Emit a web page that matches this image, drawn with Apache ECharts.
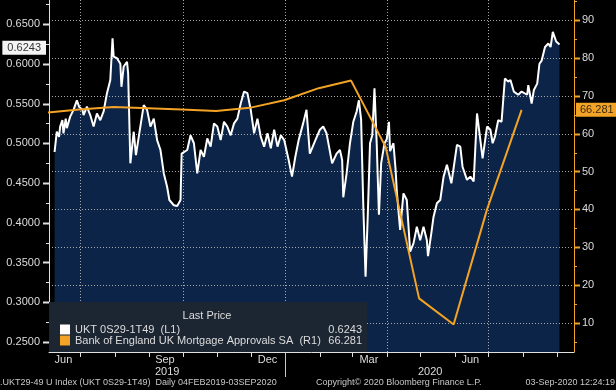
<!DOCTYPE html>
<html><head><meta charset="utf-8">
<script src="https://cdn.jsdelivr.net/npm/echarts@6/dist/echarts.min.js"></script>
<style>html,body{margin:0;padding:0;background:#000}#c{width:616px;height:390px}</style>
</head><body><div id="c"></div>
<script>
const FONT = '"Liberation Sans", Arial, sans-serif';
const UKT_NAME = 'UKT 0S29-1T49  (L1)';
const MORT_NAME = 'Bank of England UK Mortgage Approvals SA  (R1)';

// UKT 0S29-1T49 spread, daily
const ukDates = [
 '2019-06-08','2019-06-10','2019-06-12','2019-06-13','2019-06-15','2019-06-16','2019-06-18','2019-06-19','2019-06-22','2019-06-25','2019-06-28','2019-06-30',
 '2019-07-03','2019-07-04','2019-07-07','2019-07-10','2019-07-13','2019-07-16','2019-07-19','2019-07-22','2019-07-25','2019-07-28','2019-07-30','2019-07-31',
 '2019-08-03','2019-08-06','2019-08-07','2019-08-09','2019-08-12','2019-08-13','2019-08-15','2019-08-18','2019-08-20','2019-08-23','2019-08-27','2019-08-30',
 '2019-09-02','2019-09-05','2019-09-08','2019-09-11','2019-09-14','2019-09-17','2019-09-19','2019-09-23','2019-09-26','2019-09-29','2019-09-30',
 '2019-10-05','2019-10-08','2019-10-11','2019-10-14','2019-10-17','2019-10-20','2019-10-23','2019-10-26','2019-10-29',
 '2019-11-01','2019-11-04','2019-11-07','2019-11-10','2019-11-13','2019-11-16','2019-11-19','2019-11-22','2019-11-25','2019-11-28',
 '2019-12-01','2019-12-04','2019-12-07','2019-12-10','2019-12-13','2019-12-16','2019-12-19','2019-12-22','2019-12-25','2019-12-28','2019-12-31',
 '2020-01-04','2020-01-07','2020-01-10','2020-01-13','2020-01-17','2020-01-20','2020-01-23','2020-01-28',
 '2020-02-01','2020-02-04','2020-02-07','2020-02-12','2020-02-16','2020-02-19','2020-02-21','2020-02-22','2020-02-25','2020-02-28',
 '2020-03-02','2020-03-05','2020-03-07','2020-03-09','2020-03-11','2020-03-13','2020-03-15','2020-03-17','2020-03-19','2020-03-21','2020-03-23','2020-03-25','2020-03-27','2020-03-30',
 '2020-04-01','2020-04-03','2020-04-04','2020-04-07','2020-04-09','2020-04-10','2020-04-13','2020-04-16','2020-04-19','2020-04-22','2020-04-25','2020-04-28',
 '2020-05-01','2020-05-04','2020-05-07','2020-05-08','2020-05-11','2020-05-13','2020-05-16','2020-05-19','2020-05-22','2020-05-25','2020-05-29',
 '2020-06-03','2020-06-06','2020-06-08','2020-06-12','2020-06-15','2020-06-18','2020-06-21','2020-06-24','2020-06-26','2020-06-30',
 '2020-07-03','2020-07-05','2020-07-07','2020-07-10','2020-07-13','2020-07-16','2020-07-19','2020-07-21','2020-07-24','2020-07-28','2020-07-31',
 '2020-08-05','2020-08-06','2020-08-09','2020-08-11','2020-08-14','2020-08-16','2020-08-18','2020-08-21','2020-08-24','2020-08-26','2020-08-28','2020-08-31',
 '2020-09-03'
];
const ukValues = [
 0.489,0.5145,0.508,0.521,0.529,0.5125,0.531,0.519,0.5335,0.542,0.554,0.546,
 0.542,0.5355,0.546,0.5355,0.521,0.5375,0.529,0.540,0.563,0.5795,0.632,0.609,
 0.607,0.600,0.571,0.5965,0.6025,0.588,0.4748,0.5145,0.485,0.5125,0.548,0.542,
 0.521,0.531,0.504,0.4915,0.462,0.445,0.4286,0.422,0.421,0.4286,0.487,
 0.4915,0.510,0.500,0.462,0.4915,0.483,0.506,0.4957,0.525,
 0.521,0.504,0.527,0.521,0.510,0.525,0.531,0.550,0.565,0.563,
 0.542,0.5125,0.531,0.508,0.4957,0.5125,0.4937,0.517,0.4957,0.510,0.504,
 0.479,0.458,0.483,0.504,0.525,0.542,0.487,0.504,
 0.517,0.521,0.5125,0.4748,0.487,0.4915,0.479,0.432,0.462,0.500,
 0.527,0.540,0.554,0.530,0.420,0.332,0.410,0.500,0.510,0.569,0.500,0.410,0.475,0.500,
 0.505,0.527,0.490,0.500,0.466,0.440,0.391,0.437,0.4286,0.3636,0.374,0.395,
 0.378,0.395,0.378,0.358,0.387,0.4076,0.4245,0.4286,0.458,0.473,0.4496,
 0.498,0.4957,0.4705,0.454,0.458,0.452,0.5375,0.504,0.481,0.521,
 0.517,0.500,0.508,0.529,0.527,0.5815,0.5775,0.5795,0.565,0.561,0.565,
 0.561,0.573,0.550,0.567,0.575,0.600,0.604,0.621,0.6254,0.621,0.640,0.628,
 0.6243
];

// Bank of England mortgage approvals (thousands), monthly, plotted at month end
const mortDates = ['2019-05-31','2019-06-30','2019-07-31','2019-08-31','2019-09-30','2019-10-31','2019-11-30','2019-12-31',
 '2020-01-31','2020-02-29','2020-03-31','2020-04-30','2020-05-31','2020-06-30','2020-07-31'];
const mortValues = [65.5,66.4,67.0,66.7,66.4,66.0,66.8,68.8,72.0,74.0,56.5,16.5,9.6,40.0,66.281];

// axis ticks / labels
const leftTicks = [0.25,0.30,0.35,0.40,0.45,0.50,0.55,0.60,0.65];
const leftMinor = [0.275,0.325,0.375,0.425,0.475,0.525,0.575,0.625,0.675];
const rightTicks = [10,20,30,40,50,60,70,80,90];
const rightMinor = [5,15,25,35,45,55,65,75,85,95];
const axisStart = '2019-06-03';
const axisEnd = '2020-09-16';
const monthTicks = ['2019-07-01','2019-08-01','2019-09-01','2019-10-01','2019-11-01','2019-12-01','2020-01-01','2020-02-01',
 '2020-03-01','2020-04-01','2020-05-01','2020-06-01','2020-07-01','2020-08-01','2020-09-01'];
const quarterLines = ['2019-07-01','2019-10-01','2020-01-01','2020-04-01','2020-07-01'];
const monthLabelDates = ['2019-06-16','2019-09-15','2019-12-16','2020-03-16','2020-06-15'];
const monthLabelText = ['Jun','Sep','Dec','Mar','Jun'];
const yearLabelDates = ['2019-09-17','2020-05-10'];
const yearLabelText = ['2019','2020'];
const yearBreaks = ['2020-01-01'];

const DAY = 864e5;
const t = s => Date.parse(s + 'T00:00:00Z');
const fmt = ms => new Date(ms).toISOString().slice(0, 10);
const axisDays = [];
for (let d = t(axisStart); d <= t(axisEnd); d += DAY) axisDays.push(fmt(d));

const L_MIN = 0.23742, L_MAX = 0.68019;
const R_MIN = 2.343, R_MAX = 95.28;

const monthMap = {}; monthLabelDates.forEach((d, i) => monthMap[d] = monthLabelText[i]);
const yearMap = {}; yearLabelDates.forEach((d, i) => yearMap[d] = yearLabelText[i]);

const ukData = ukDates.map((d, i) => [t(d), ukValues[i]]);
const mortData = mortDates.map((d, i) => [t(d), mortValues[i]]);
const lastUk = ukValues[ukValues.length - 1];
const lastMort = mortValues[mortValues.length - 1];

const GRID_COL = '#a8a8a8';
const AX_COL = '#e0e0e0';
const TXT = '#dcdcdc';
const ORANGE = '#f3a325';
const NAVY = '#0b2447';

// ---- grid lines and ticks drawn through the axes' own scales (custom series) ----
const snap = v => Math.round(v) + 0.5;
function hGrid(params, api) {
  const cs = params.coordSys;
  const y = snap(api.coord([api.value(0), api.value(1)])[1]);
  return {type: 'line', silent: true, shape: {x1: cs.x, y1: y, x2: cs.x + cs.width, y2: y},
    style: {stroke: GRID_COL, lineWidth: 1, lineDash: [1, 2]}};
}
function vGrid(params, api) {
  const cs = params.coordSys;
  const x = snap(api.coord([api.value(0), api.value(1)])[0]);
  return {type: 'line', silent: true, shape: {x1: x, y1: cs.y, x2: x, y2: cs.y + cs.height},
    style: {stroke: GRID_COL, lineWidth: 1, lineDash: [1, 2]}};
}
function yTick(side, len, color, width) {
  return (params, api) => {
    const cs = params.coordSys;
    const y = snap(api.coord([api.value(0), api.value(1)])[1]);
    const x0 = side === 'left' ? cs.x : cs.x + cs.width;
    const x1 = side === 'left' ? x0 - len : x0 + len;
    return {type: 'line', silent: true, shape: {x1: x0, y1: y, x2: x1, y2: y}, style: {stroke: color, lineWidth: width}};
  };
}
function xTick(len, color) {
  return (params, api) => {
    const cs = params.coordSys;
    const x = snap(api.coord([api.value(0), api.value(1)])[0]);
    const y0 = cs.y + cs.height;
    return {type: 'line', silent: true, shape: {x1: x, y1: y0, x2: x, y2: y0 + len}, style: {stroke: color, lineWidth: 1}};
  };
}
const X0 = t(axisStart);
function helper(name, yIdx, data, render, z) {
  return {name, type: 'custom', xAxisIndex: 1, yAxisIndex: yIdx, data, renderItem: render,
    clip: false, silent: true, z, animation: false, tooltip: {show: false}};
}

const chart = echarts.init(document.getElementById('c'), null, {renderer: 'canvas'});
chart.setOption({
  backgroundColor: '#000',
  animation: false,
  grid: [
    {left: 49, right: 42, top: 0, bottom: 38, outerBoundsMode: 'none'},
    {left: 49, right: 42, top: 0, bottom: 38, outerBoundsMode: 'none'}
  ],
  xAxis: [
    {type: 'category', gridIndex: 0, data: axisDays, boundaryGap: false, position: 'bottom', z: 2,
     axisLine: {show: true, lineStyle: {color: AX_COL, width: 1}},
     axisTick: {show: false},
     axisLabel: {show: true, interval: (i, v) => v in monthMap, formatter: v => monthMap[v] || '',
       color: TXT, fontSize: 11, fontFamily: FONT, margin: 2, hideOverlap: false},
     splitLine: {show: false}},
    {type: 'value', gridIndex: 0, min: t(axisStart), max: t(axisEnd), show: false,
     axisLine: {show: false}, axisTick: {show: false}, axisLabel: {show: false}, splitLine: {show: false}},
    {type: 'category', gridIndex: 1, data: axisDays, boundaryGap: false, position: 'bottom', z: 2,
     axisLine: {show: false}, axisTick: {show: false},
     axisLabel: {show: true, interval: (i, v) => v in yearMap, formatter: v => yearMap[v] || '',
       color: TXT, fontSize: 11, fontFamily: FONT, margin: 14, hideOverlap: false},
     splitLine: {show: false}}
  ],
  yAxis: [
    {type: 'value', gridIndex: 0, min: L_MIN, max: L_MAX, splitNumber: 9, position: 'left', z: 2,
     axisLine: {show: true, lineStyle: {color: AX_COL}},
     axisTick: {show: false},
     axisLabel: {formatter: v => v.toFixed(4), showMinLabel: false, showMaxLabel: false,
       color: TXT, fontSize: 11, fontFamily: FONT, margin: 9},
     splitLine: {show: false}},
    {type: 'value', gridIndex: 0, min: R_MIN, max: R_MAX, splitNumber: 9, position: 'right', z: 2,
     axisLine: {show: true, lineStyle: {color: ORANGE}},
     axisTick: {show: false},
     axisLabel: {showMinLabel: false, showMaxLabel: false, color: TXT, fontSize: 11, fontFamily: FONT, margin: 8},
     splitLine: {show: false}},
    {type: 'value', gridIndex: 1, min: L_MIN, max: L_MAX, show: false}
  ],
  legend: {
    data: [UKT_NAME, MORT_NAME],
    orient: 'vertical', left: 55, top: 319, itemWidth: 10, itemHeight: 10, itemGap: 0,
    icon: 'rect', selectedMode: false, z: 8,
    formatter: name => {
      const v = name === UKT_NAME ? lastUk.toFixed(4) : lastMort.toFixed(3);
      return '{n|' + name + '}{v|' + v + '}';
    },
    textStyle: {rich: {
      n: {width: 250, color: TXT, fontSize: 11, fontFamily: FONT, lineHeight: 14},
      v: {width: 37, align: 'right', color: TXT, fontSize: 11, fontFamily: FONT, lineHeight: 14}
    }}
  },
  graphic: [
    {type: 'rect', z: 7, silent: true, shape: {x: 49, y: 302, width: 318, height: 50}, style: {fill: '#1c2532'}},
    {type: 'text', z: 8, x: 207, y: 316, style: {text: 'Last Price', fill: TXT, font: '11px ' + FONT,
      align: 'center', verticalAlign: 'middle', textAlign: 'center', textVerticalAlign: 'middle'}},
    {type: 'text', z: 8, x: 0, y: 383, style: {text: '.UKT29-49 U Index (UKT 0S29-1T49)  Daily 04FEB2019-03SEP2020', fill: '#c8c8c8',
      font: '9px ' + FONT, align: 'left', verticalAlign: 'middle', textAlign: 'left', textVerticalAlign: 'middle'}},
    {type: 'text', z: 8, x: 316, y: 383, style: {text: 'Copyright\u00A9 2020 Bloomberg Finance L.P.', fill: '#c8c8c8',
      font: '9px ' + FONT, align: 'left', verticalAlign: 'middle', textAlign: 'left', textVerticalAlign: 'middle'}},
    {type: 'text', z: 8, x: 615, y: 383, style: {text: '03-Sep-2020 12:24:19', fill: '#c8c8c8',
      font: '9px ' + FONT, align: 'right', verticalAlign: 'middle', textAlign: 'right', textVerticalAlign: 'middle'}}
  ],
  series: [
    {name: 'ukt-area', type: 'line', xAxisIndex: 1, yAxisIndex: 0, data: ukData, z: 1,
     showSymbol: false, symbol: 'none', lineStyle: {width: 0}, itemStyle: {color: NAVY},
     areaStyle: {color: NAVY, opacity: 1, origin: 'start'}, silent: true},
    helper('grid-h', 1, rightTicks.map(v => [X0, v]), hGrid, 2),
    helper('grid-v', 1, quarterLines.map(d => [t(d), R_MIN]), vGrid, 2),
    helper('tick-left', 0, leftTicks.map(v => [X0, v]), yTick('left', 6, AX_COL, 2), 2),
    helper('tick-left-minor', 0, leftMinor.map(v => [X0, v]), yTick('left', 3, AX_COL, 1), 2),
    helper('tick-right', 1, rightTicks.map(v => [X0, v]), yTick('right', 6, ORANGE, 2), 2),
    helper('tick-right-minor', 1, rightMinor.map(v => [X0, v]), yTick('right', 3, ORANGE, 1), 2),
    helper('tick-month', 1, monthTicks.map(d => [t(d), R_MIN]), xTick(5, AX_COL), 2),
    helper('tick-year', 1, yearBreaks.map(d => [t(d), R_MIN]), xTick(25, '#c8c8c8'), 2),
    {name: UKT_NAME, type: 'line', xAxisIndex: 1, yAxisIndex: 0, data: ukData, z: 3,
     showSymbol: false, symbol: 'none', color: '#ffffff', lineStyle: {color: '#ffffff', width: 2}, itemStyle: {color: '#ffffff'}},
    {name: MORT_NAME, type: 'line', xAxisIndex: 1, yAxisIndex: 1, data: mortData, z: 4,
     showSymbol: false, symbol: 'none', color: ORANGE, lineStyle: {color: ORANGE, width: 2}, itemStyle: {color: ORANGE}},
    {name: 'last-left', type: 'line', xAxisIndex: 1, yAxisIndex: 0, data: [ukData[ukData.length - 1]], z: 9, clip: false, silent: true,
     showSymbol: false, symbol: 'none', lineStyle: {width: 0}, itemStyle: {color: 'transparent'},
     markLine: {silent: true, z: 9, symbol: ['none', 'none'], lineStyle: {color: 'transparent', width: 0}, animation: false,
       data: [{yAxis: lastUk}],
       label: {show: true, position: 'start', distance: 3, formatter: () => lastUk.toFixed(4), opacity: 1,
         backgroundColor: '#f4f4f4', color: '#333', fontSize: 11, fontFamily: FONT, padding: [2, 5, 1, 5]}}},
    {name: 'last-right', type: 'line', xAxisIndex: 1, yAxisIndex: 1, data: [mortData[mortData.length - 1]], z: 9, clip: false, silent: true,
     showSymbol: false, symbol: 'none', lineStyle: {width: 0}, itemStyle: {color: 'transparent'},
     markLine: {silent: true, z: 9, symbol: ['none', 'none'], lineStyle: {color: 'transparent', width: 0}, animation: false,
       data: [{yAxis: lastMort}],
       label: {show: true, position: 'end', distance: 2, formatter: () => lastMort.toFixed(3), opacity: 1,
         backgroundColor: ORANGE, color: '#3a2a10', fontSize: 11, fontFamily: FONT, padding: [2, 3, 1, 4]}}}
  ]
});
</script></body></html>
